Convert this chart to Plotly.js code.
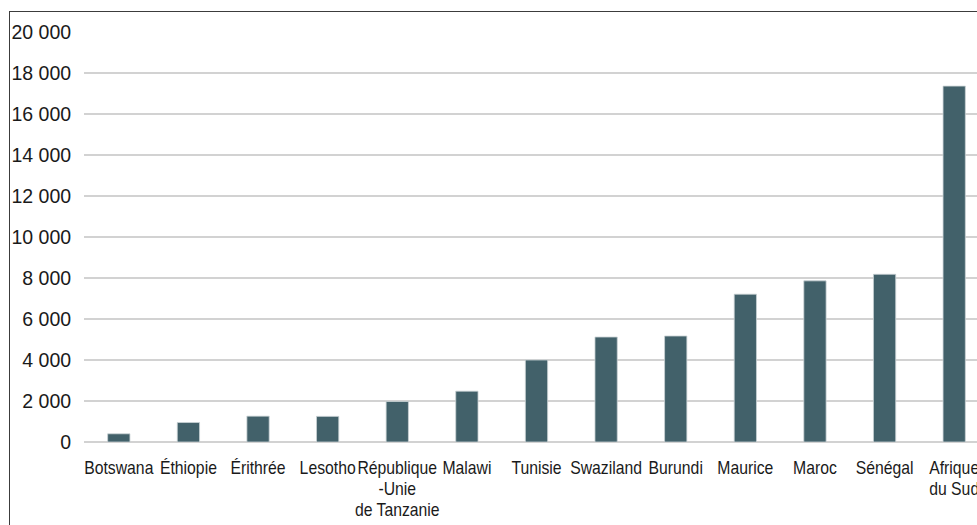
<!DOCTYPE html>
<html>
<head>
<meta charset="utf-8">
<script src="https://cdn.plot.ly/plotly-3.0.1.min.js"></script>
<style>
html,body{margin:0;padding:0;overflow:hidden;background:#fff;width:977px;height:525px;}
#chart{position:absolute;left:0;top:0;}
#frame{position:absolute;left:9px;top:11px;width:1200px;height:1000px;border-left:1.5px solid #3c3c3c;border-top:1.5px solid #3c3c3c;pointer-events:none;}
</style>
</head>
<body>
<div id="chart"></div>
<div id="frame"></div>
<script>
var categories = ["Botswana","Éthiopie","Érithrée","Lesotho","République<br>-Unie<br>de Tanzanie","Malawi","Tunisie","Swaziland","Burundi","Maurice","Maroc","Sénégal","Afrique<br>du Sud"];
var values = [400, 950, 1260, 1250, 1975, 2480, 4000, 5120, 5170, 7210, 7860, 8180, 17360];
var yTicks = [0,2000,4000,6000,8000,10000,12000,14000,16000,18000,20000];

var trace = {
  type: 'bar',
  x: categories,
  y: values,
  marker: {color: '#42616a', line: {color: '#c9d2d4', width: 0.8}},
  width: 0.32,
  hoverinfo: 'x+y'
};

var layout = {
  width: 995,
  height: 525,
  margin: {l: 84, r: 6, t: 32, b: 82.5},
  paper_bgcolor: '#ffffff',
  plot_bgcolor: '#ffffff',
  separators: ', ',
  showlegend: false,
  font: {family: 'Liberation Sans, Arial, sans-serif', color: '#1a1a1a', size: 19},
  xaxis: {
    type: 'category',
    tickangle: 0,
    showgrid: false,
    showline: false,
    zeroline: false,
    ticks: 'outside',
    ticklen: 8,
    tickcolor: 'rgba(0,0,0,0)',
    tickfont: {family: 'Liberation Sans, Arial, sans-serif', size: 19, color: '#1a1a1a'}
  },
  yaxis: {
    range: [0, 20000],
    tickvals: yTicks,
    tickformat: ',d',
    showgrid: true,
    gridcolor: '#d2d2d2',
    gridwidth: 1.2,
    zeroline: true,
    zerolinecolor: '#d2d2d2',
    zerolinewidth: 1.2,
    showline: false,
    ticks: 'outside',
    ticklen: 8,
    tickcolor: 'rgba(0,0,0,0)',
    tickfont: {family: 'Liberation Sans, Arial, sans-serif', size: 19.5, color: '#1a1a1a'}
  }
};

function condenseLabels() {
  var texts = document.querySelectorAll('#chart .xtick text');
  texts.forEach(function (t) {
    var x = parseFloat(t.getAttribute('x')) || 0;
    var y = parseFloat(t.getAttribute('y')) || 0;
    var tr = t.getAttribute('transform') || '';
    t.setAttribute('transform', tr + ' translate(' + x + ' ' + y + ') scale(0.83 1) translate(' + (-x) + ' ' + (-y) + ')');
    t.querySelectorAll('tspan.line').forEach(function (sp) {
      var dy = sp.getAttribute('dy');
      if (dy && /em$/.test(dy)) {
        sp.setAttribute('dy', (parseFloat(dy) * 0.85) + 'em');
      }
    });
  });
}

Plotly.newPlot('chart', [trace], layout, {displayModeBar: false, staticPlot: true}).then(condenseLabels);
</script>
</body>
</html>
